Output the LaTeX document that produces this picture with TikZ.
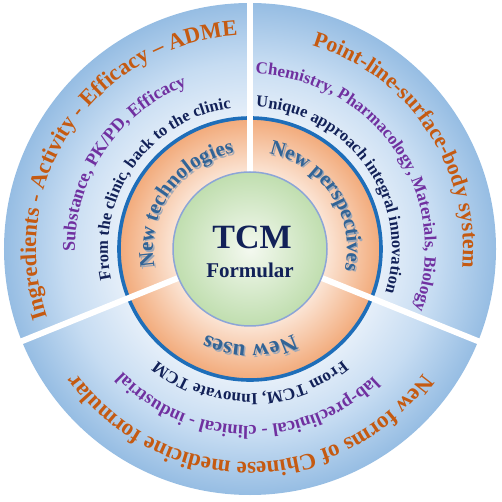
\documentclass[tikz,border=0pt]{standalone}
\usepackage{fontspec}
\setmainfont{Liberation Serif}
\usetikzlibrary{decorations.text}

\definecolor{tcmorange}{RGB}{197,90,17}
\definecolor{tcmpurple}{RGB}{112,48,160}
\definecolor{tcmnavy}{RGB}{18,33,88}
\definecolor{ringblue}{RGB}{30,110,185}
\definecolor{ringtext}{RGB}{50,100,150}
\definecolor{ringshadow}{RGB}{160,168,182}
\definecolor{skylight}{RGB}{230,239,249}
\definecolor{skymid}{RGB}{198,220,242}
\definecolor{skydark}{RGB}{150,189,227}
\definecolor{peachlight}{RGB}{251,228,212}
\definecolor{peachdark}{RGB}{242,170,122}
\definecolor{minthi}{RGB}{244,249,240}
\definecolor{mintlo}{RGB}{192,222,175}
\definecolor{mintedge}{RGB}{140,165,215}

\pgfdeclareradialshading{skydisk}{\pgfpointorigin}{color(0bp)=(white); color(13.3bp)=(skylight); color(19bp)=(skymid); color(25bp)=(skydark); color(50bp)=(skydark)}
\pgfdeclareradialshading{peachdisk}{\pgfpointorigin}{color(0bp)=(white); color(14.7bp)=(peachlight); color(25bp)=(peachdark); color(50bp)=(peachdark)}

\newcommand\outerfont[1]{\fontsize{#1}{#1}\selectfont\bfseries\color{tcmorange}}
\newcommand\middlefont[1]{\fontsize{#1}{#1}\selectfont\bfseries\color{tcmpurple}}
\newcommand\innerfont[1]{\fontsize{#1}{#1}\selectfont\bfseries\color{tcmnavy}}
\newcommand\ringfont[1]{\fontsize{#1}{#1}\selectfont\bfseries\color{ringtext}}
\newcommand\shadowfont[1]{\fontsize{#1}{#1}\selectfont\bfseries\color{ringshadow}}

\tikzset{
	arclabel/.style={decorate, decoration={text along path, text align=center, text={#1}}},
	gap/.style={white, line width=6},
}

% text on a clockwise arc: radius, middle angle, format, text
\newcommand\ringlabel[4]{%
	\path[arclabel={|#3|#4}] ({#2+80}:#1) arc[start angle=#2+80, end angle=#2-80, radius=#1];}

\begin{document}
\begin{tikzpicture}[x=1pt, y=1pt]
	\useasboundingbox (-250,-253) rectangle (252,249);
	\coordinate (hub) at (0,0);

	% discs
	\shade[shading=skydisk] (hub) circle[radius=246];
	\shade[shading=peachdisk] (hub) circle[radius=131];
	\draw[ringblue, line width=3.6] (hub) circle[radius=131];

	\foreach \a in {90,202,338}
		\draw[gap] (hub) -- (\a:252);

	\shade[inner color=minthi, outer color=mintlo, draw=mintedge, line width=1.5] (hub) circle[radius=77];

	\node[font=\fontsize{34}{34}\selectfont\bfseries, text=tcmnavy] (tcm) at (2,12) {TCM};
	\node[font=\fontsize{21}{21}\selectfont\bfseries, text=tcmnavy] (formular) at (0,-21) {Formular};

	% left sector
	\ringlabel{214}{146}{\outerfont{22.5}}{Ingredients - Activity - Efficacy – ADME}
	\ringlabel{175}{146}{\middlefont{18}}{Substance, PK/PD, Efficacy}
	\ringlabel{142}{145}{\innerfont{16.5}}{From the clinic, back to the clinic}
	\begin{scope}[xshift=1.5, yshift=-1.5]
		\ringlabel{97}{145}{\shadowfont{21}}{New technologies}
	\end{scope}
	\ringlabel{97}{145}{\ringfont{21}}{New technologies}

	% right sector
	\ringlabel{213}{34}{\outerfont{22}}{Point-line-surface-body system}
	\ringlabel{175}{34}{\middlefont{17}}{Chemistry, Pharmacology, Materials, Biology}
	\ringlabel{142}{35}{\innerfont{16.5}}{Unique approach integral innovation}
	\begin{scope}[xshift=1.5, yshift=-1.5]
		\ringlabel{97}{33}{\shadowfont{21}}{New perspectives}
	\end{scope}
	\ringlabel{97}{33}{\ringfont{21}}{New perspectives}

	% bottom sector
	\ringlabel{213}{270}{\outerfont{23}}{New forms of Chinese medicine formular}
	\ringlabel{177}{269}{\middlefont{18.5}}{lab-preclinical - clinical - industrial}
	\ringlabel{145}{270}{\innerfont{17}}{From TCM, Innovate TCM}
	\begin{scope}[xshift=1.5, yshift=-1.5]
		\ringlabel{96}{270}{\shadowfont{23}}{New uses}
	\end{scope}
	\ringlabel{96}{270}{\ringfont{23}}{New uses}
\end{tikzpicture}
\end{document}
